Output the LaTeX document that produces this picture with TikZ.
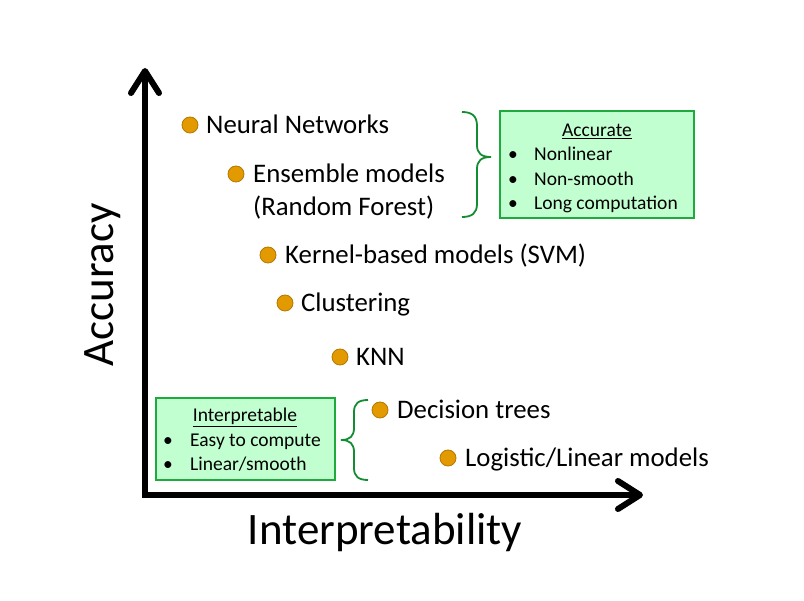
\documentclass[tikz,border=0pt]{standalone}
\usepackage{fontspec}
\setmainfont{Carlito}
\usetikzlibrary{arrows.meta}
\definecolor{dotfill}{RGB}{226,154,0}
\definecolor{dotdraw}{RGB}{180,120,0}
\definecolor{boxfill}{RGB}{194,255,208}
\definecolor{boxdraw}{RGB}{30,170,60}
\definecolor{bracecol}{RGB}{20,140,50}
\tikzset{
  dot/.style={circle,fill=dotfill,draw=dotdraw,line width=0.8pt,minimum size=16pt,inner sep=0pt},
  lbl/.style={anchor=base west,inner sep=0pt,font=\fontsize{26.8}{32}\selectfont},
  axislbl/.style={inner sep=0pt,font=\fontsize{45}{52}\selectfont},
  gbox/.style={draw=boxdraw,fill=boxfill,line width=1.5pt,inner sep=0pt},
  boxtxt/.style={anchor=base west,inner sep=0pt,font=\fontsize{19.5}{23}\selectfont},
  gbrace/.style={draw=bracecol,line width=1.8pt},
  axis/.style={line width=6pt,-{Straight Barb[round,length=22pt,width=28pt]}}
}
\begin{document}
\begin{tikzpicture}[x=1pt,y=-1pt]
\useasboundingbox (0,0) rectangle (804,601);
% axes
\coordinate (o) at (145,495);
\coordinate (ytop) at (145,68);
\coordinate (xend) at (643,495);
\draw[axis] ([yshift=3pt]o) -- (ytop);
\draw[axis] ([xshift=-3pt]o) -- (xend);
\node[axislbl,rotate=90] (acclbl) at (103,285) {Accuracy};
\node[axislbl] (intlbl) at (385,533) {Interpretability};
% models
\node[dot] (d1) at (190,125) {};
\node[lbl] (t1) at (206,134) {Neural Networks};
\node[dot] (d2) at (236,174) {};
\node[lbl] (t2) at (253,183) {Ensemble models};
\node[lbl] (t2b) at (253,216) {(Random Forest)};
\node[dot] (d3) at (268,255) {};
\node[lbl] (t3) at (285,264) {Kernel-based models (SVM)};
\node[dot] (d4) at (285,303) {};
\node[lbl] (t4) at (301,312) {Clustering};
\node[dot] (d5) at (340,357) {};
\node[lbl] (t5) at (356,366) {KNN};
\node[dot] (d6) at (380,410) {};
\node[lbl] (t6) at (397,419) {Decision trees};
\node[dot] (d7) at (448,458) {};
\node[lbl] (t7) at (465,467) {Logistic/Linear models};
% Accurate box
\node[gbox,minimum width=194pt,minimum height=107pt] (accbox) at (597,164.5) {};
\node[boxtxt,anchor=base] (acch) at (597,137) {\underline{Accurate}};
\node[boxtxt] (ab1) at (508,161) {•};
\node[boxtxt] (a1) at (534,161) {Nonlinear};
\node[boxtxt] (ab2) at (508,186) {•};
\node[boxtxt] (a2) at (534,186) {Non-smooth};
\node[boxtxt] (ab3) at (508,210) {•};
\node[boxtxt] (a3) at (534,210) {Long computation};
% Interpretable box
\node[gbox,minimum width=179pt,minimum height=82pt] (intbox) at (245.5,439) {};
\node[boxtxt,anchor=base] (inth) at (245,422) {\underline{Interpretable}};
\node[boxtxt] (ib1) at (163,447) {•};
\node[boxtxt] (i1) at (190,447) {Easy to compute};
\node[boxtxt] (ib2) at (163,471) {•};
\node[boxtxt] (i2) at (190,471) {Linear/smooth};
% braces
\draw[gbrace] (462,112) .. controls (472,112) and (477,116) .. (477,126) -- (477,145)
  .. controls (477,153) and (481,157) .. (491,157)
  .. controls (481,157) and (477,161) .. (477,169) -- (477,204)
  .. controls (477,213) and (472,217) .. (462,217);
\draw[gbrace] (368,400) .. controls (358,400) and (354,404) .. (354,412) -- (354,428)
  .. controls (354,436) and (350,440) .. (341,440)
  .. controls (350,440) and (354,444) .. (354,452) -- (354,468)
  .. controls (354,476) and (358,480) .. (368,480);
\end{tikzpicture}
\end{document}
